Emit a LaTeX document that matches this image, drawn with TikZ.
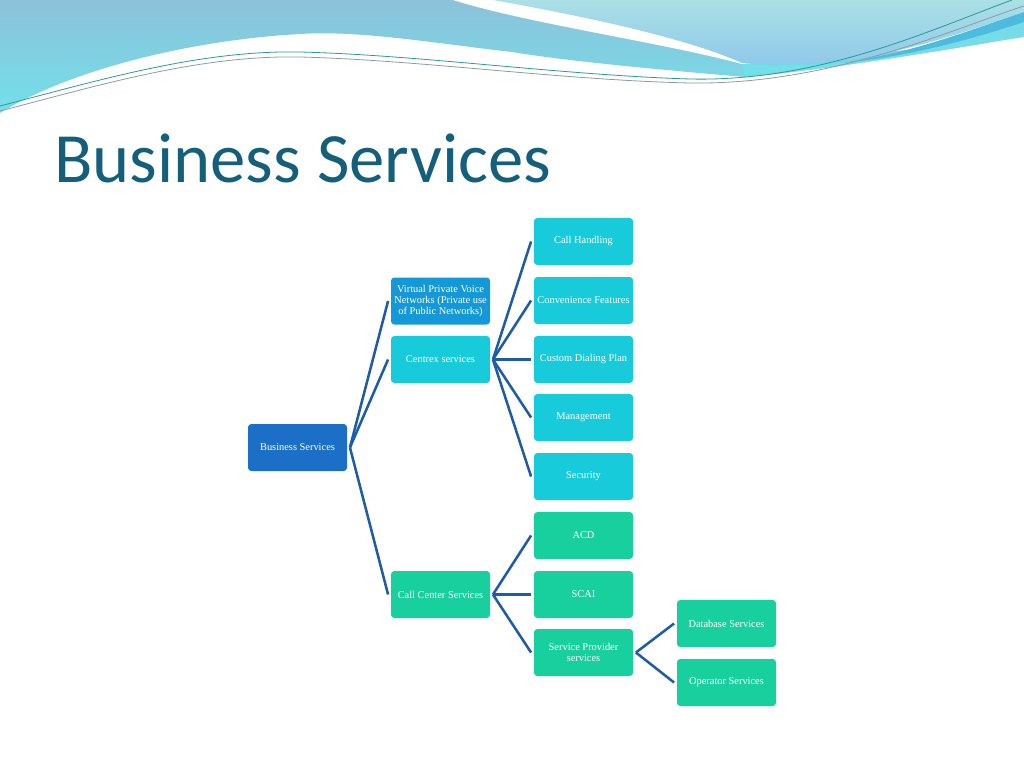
\documentclass[tikz,border=0pt]{standalone}
\usepackage{fontspec}
\setmainfont{Liberation Serif}
\newfontfamily\titlefont{Carlito}
\begin{document}
\begin{tikzpicture}[x=0.75pt,y=-0.75pt,
  box/.style={rounded corners=2.5pt,minimum width=74.25pt,minimum height=35.25pt,
    inner sep=1pt,text=white,align=center,font=\fontsize{7.8}{8.6}\selectfont},
  bluebox/.style={box,fill=bsblue},
  midbox/.style={box,fill=vpblue},
  cyanbox/.style={box,fill=cxcyan},
  greenbox/.style={box,fill=ccgreen},
  link/.style={draw=linkblue,line width=1.9pt}]
\definecolor{bsblue}{HTML}{1C6FC7}
\definecolor{vpblue}{HTML}{1598D8}
\definecolor{cxcyan}{HTML}{17CBDA}
\definecolor{ccgreen}{HTML}{17D09D}
\definecolor{linkblue}{HTML}{1F5CA8}
\definecolor{titlecol}{HTML}{145F7B}
\definecolor{wavetop}{HTML}{8CC2DA}
\definecolor{wavebot}{HTML}{72E0EA}
\definecolor{palea}{HTML}{ABE0E6}
\definecolor{paleb}{HTML}{8FC9EA}
\definecolor{darkcy}{HTML}{4DBBDD}
\definecolor{thinteal}{HTML}{2A9A9C}
\definecolor{thingray}{HTML}{8C9AA6}
\useasboundingbox (0,0) rectangle (1024,768);
\fill[white] (0,0) rectangle (1024,768);
% cyan/blue band (left and lower)
\shade[top color=wavetop,bottom color=wavebot]
  (0,0) -- (1024,0) -- (1024,37)
  .. controls (930,52) and (840,68) .. (745,77)
  .. controls (640,68) and (560,60) .. (512,52)
  .. controls (440,44) and (360,30) .. (300,34)
  .. controls (190,40) and (70,70) .. (0,113) -- cycle;
% white stripe
\fill[white] (453,0) .. controls (530,24) and (660,42) .. (742,64)
  -- (1024,40) -- (1024,0) -- cycle;
% pale blue region upper right
\shade[top color=palea,bottom color=paleb]
  (493,0) .. controls (560,12) and (680,35) .. (742,63)
  .. controls (770,65) and (790,64) .. (820,63)
  .. controls (900,56) and (970,30) .. (1024,12)
  -- (1024,0) -- cycle;
% cyan band continuation under stripe on right
\shade[top color=wavebot!80!wavetop,bottom color=wavebot]
  (742,64) .. controls (790,66) and (830,64) .. (860,61)
  .. controls (930,52) and (980,30) .. (1024,20) -- (1024,37)
  .. controls (930,52) and (840,68) .. (745,77) -- cycle;
% darker cyan sliver
\fill[darkcy] (1024,12) .. controls (970,30) and (910,54) .. (840,63)
  .. controls (910,57) and (975,38) .. (1024,22) -- cycle;
% thin lines
\draw[thinteal,line width=0.6pt] (0,106) .. controls (100,80) and (200,50) .. (300,52)
  .. controls (420,55) and (560,75) .. (690,79)
  .. controls (820,82) and (930,30) .. (1012,0);
\draw[thingray,line width=0.6pt] (0,111) .. controls (100,85) and (200,55) .. (300,57)
  .. controls (420,60) and (560,80) .. (690,83)
  .. controls (830,85) and (950,30) .. (1024,6);
% title
\node[anchor=base west,inner sep=0,text=titlecol,font=\titlefont\fontsize{53}{58}\selectfont]
  (title) at (54,182) {Business Services};
% nodes
\node[bluebox] (bs) at (297.5,447.5) {Business Services};
\node[midbox] (vp) at (440.5,301) {Virtual Private Voice\\Networks (Private use\\of Public Networks)};
\node[cyanbox] (cx) at (440.5,359.5) {Centrex services};
\node[greenbox] (cc) at (440.5,594.5) {Call Center Services};
\node[cyanbox] (ch) at (583.5,241.5) {Call Handling};
\node[cyanbox] (cf) at (583.5,300.5) {Convenience Features};
\node[cyanbox] (cd) at (583.5,359.5) {Custom Dialing Plan};
\node[cyanbox] (mg) at (583.5,417.5) {Management};
\node[cyanbox] (se) at (583.5,476.5) {Security};
\node[greenbox] (acd) at (583.5,535.5) {ACD};
\node[greenbox] (scai) at (583.5,594.5) {SCAI};
\node[greenbox] (sp) at (583.5,652.5) {Service Provider\\services};
\node[greenbox] (db) at (726.5,623.5) {Database Services};
\node[greenbox] (op) at (726.5,682.5) {Operator Services};
% connectors
\foreach \p/\c in {bs/vp,bs/cx,bs/cc,cx/ch,cx/cf,cx/cd,cx/mg,cx/se,cc/acd,cc/scai,cc/sp,sp/db,sp/op}
  \draw[link] ([xshift=2pt]\p.east) -- ([xshift=-2pt]\c.west);
\end{tikzpicture}
\end{document}
